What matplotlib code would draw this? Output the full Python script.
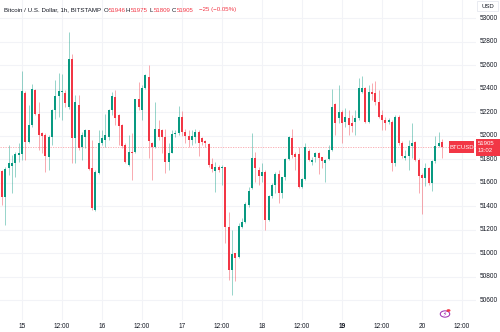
import pandas as pd
import matplotlib
matplotlib.use("Agg")
import matplotlib.pyplot as plt
from matplotlib.patches import Rectangle, Circle

plt.rcParams['font.family'] = ['Liberation Sans', 'DejaVu Sans']

# BTCUSD hourly candles, Bitstamp
opens = [51701, 51483, 51724, 51744, 51772, 51837, 51846, 52366, 51950, 52092,
         52394, 52191, 52021, 52007, 51823, 51993, 52219, 52341, 52372, 52369,
         52247, 52652, 51979, 52262, 51908, 51993, 52049, 51724, 51370, 51681,
         51936, 51964, 51987, 52219, 52332, 52177, 52092, 51922, 51752, 51865,
         51865, 52312, 52219, 52412, 52502, 51936, 51908, 52063, 52055, 51993,
         51780, 51857, 52013, 52027, 52163, 52035, 51998, 51964, 51993, 52035,
         51979, 51956, 51928, 51758, 51704, 51738, 51724, 51732, 51223, 50861,
         51002, 50968, 51229, 51271, 51413, 51554, 51809, 51710, 51662, 51696,
         51285, 51489, 51582, 51676, 51512, 51653, 51800, 51984, 51846, 51846,
         51568, 51630, 51874, 51780, 51823, 51851, 51817, 51766, 51803, 51882,
         52270, 52151, 52208, 52123, 52151, 52114, 52123, 52151, 52378, 52406,
         52123, 52372, 52369, 52293, 52180, 52137, 52123, 52123, 51769, 52165,
         51939, 51812, 51826, 51911, 51945, 51797, 51670, 51642, 51727, 51599,
         51783, 51911, 51946]
highs = [51710, 51738, 51922, 51837, 51865, 51936, 52550, 52380, 52262, 52446,
         52403, 52290, 52035, 52021, 52007, 52233, 52474, 52536, 52530, 52389,
         52884, 52700, 52346, 52346, 52035, 52063, 52055, 51964, 51710, 52049,
         52049, 52191, 52233, 52375, 52389, 52191, 52106, 51936, 52007, 52021,
         52318, 52460, 52431, 52530, 52601, 51950, 52290, 52134, 52063, 52063,
         51936, 52049, 52049, 52253, 52213, 52063, 52049, 52049, 52063, 52049,
         51993, 51964, 51936, 51809, 51780, 51752, 51752, 51738, 51356, 51200,
         51002, 51263, 51299, 51441, 51568, 52021, 51865, 51738, 51772, 51710,
         51497, 51597, 51696, 51710, 51653, 51809, 51998, 52063, 51865, 51908,
         51639, 51936, 51885, 51823, 51865, 51865, 51823, 51800, 51925, 52397,
         52279, 52434, 52222, 52236, 52222, 52180, 52222, 52491, 52511, 52420,
         52434, 52448, 52471, 52392, 52222, 52165, 52151, 52137, 52180, 52180,
         51953, 51882, 51967, 52109, 51953, 51812, 51684, 51769, 51735, 51797,
         51996, 52030, 51975]
lows = [51413, 51243, 51667, 51512, 51653, 51780, 51795, 51795, 51936, 52078,
        52177, 51880, 51851, 51696, 51710, 51922, 52148, 52162, 52134, 52247,
        52233, 51766, 51766, 51880, 51795, 51894, 51710, 51370, 51364, 51676,
        51922, 51908, 51964, 52177, 52092, 51922, 51894, 51766, 51744, 51625,
        51851, 52219, 52140, 52403, 51809, 51625, 51894, 51964, 51851, 51681,
        51710, 51851, 51993, 52007, 51998, 51936, 51908, 51922, 51936, 51829,
        51922, 51908, 51738, 51696, 51526, 51696, 51582, 51087, 50776, 50649,
        50762, 50960, 51215, 51257, 51399, 51546, 51611, 51582, 51611, 51200,
        51280, 51469, 51512, 51432, 51469, 51625, 51795, 51809, 51710, 51554,
        51560, 51625, 51786, 51752, 51780, 51676, 51724, 51611, 51797, 51868,
        52010, 52109, 51939, 52080, 52010, 52038, 52010, 52137, 52363, 52109,
        52109, 52307, 52264, 52151, 52052, 52052, 52100, 51698, 51747, 51925,
        51812, 51797, 51713, 51812, 51783, 51514, 51339, 51571, 51585, 51529,
        51769, 51905, 51809]
closes = [51483, 51715, 51766, 51772, 51846, 51851, 52380, 51950, 52092, 52397,
          52191, 52007, 51998, 51829, 51993, 52225, 52338, 52380, 52380, 52281,
          52658, 51979, 52290, 51894, 52007, 52049, 51715, 51384, 51696, 51942,
          51979, 52007, 52225, 52338, 52157, 52086, 51913, 51780, 51865, 51851,
          52312, 52247, 52412, 52516, 51956, 51908, 52063, 51993, 51993, 51775,
          51857, 52013, 52027, 52163, 52035, 51998, 51964, 51998, 52035, 51942,
          51950, 51936, 51752, 51715, 51738, 51710, 51738, 51223, 50861, 50994,
          50965, 51234, 51271, 51421, 51531, 51809, 51724, 51662, 51696, 51285,
          51489, 51582, 51676, 51512, 51647, 51800, 51993, 51837, 51823, 51568,
          51630, 51902, 51795, 51795, 51857, 51809, 51789, 51795, 51882, 52250,
          52109, 52202, 52114, 52160, 52095, 52086, 52151, 52406, 52406, 52123,
          52378, 52355, 52293, 52165, 52137, 52109, 52137, 51769, 52165, 51939,
          51831, 51831, 51916, 51939, 51797, 51656, 51642, 51727, 51599, 51783,
          51911, 51939, 51905]

start = "2024-02-14 18:00"
times = pd.date_range(start, periods=len(opens), freq="h")
price_levels = list(range(50600, 53001, 200))
last_price = closes[-1]

UP = "#089981"
DOWN = "#f23645"
GRID = "#f2f3f7"
TEXT = "#131722"

fig = plt.figure(figsize=(5, 3.32), dpi=100)
ax = fig.add_axes([0, 12 / 332, 476 / 500, 320 / 332])
ax.set_xlim(-0.6, 142.2)
ax.set_ylim(50434, 53157)

for i, (o, h, l, c) in enumerate(zip(opens, highs, lows, closes)):
    col = UP if c >= o else DOWN
    ax.plot([i, i], [l, h], color=col, lw=0.65, alpha=0.45, solid_capstyle="butt", zorder=2)
    bottom = min(o, c)
    height = max(abs(c - o), 8)
    ax.add_patch(Rectangle((i - 0.3, bottom), 0.6, height, facecolor=col,
                           edgecolor="none", zorder=3))

# last price line
ax.axhline(last_price, color=DOWN, lw=0.6, ls=(0, (1.5, 1.5)), alpha=0.45, zorder=1)

# time grid runs on past the last candle
x0, x1 = ax.get_xlim()
axis_times = pd.date_range(start, periods=int(x1) + 1, freq="h")
tick_pos = [i for i, t in enumerate(axis_times) if t.hour in (0, 12)]
for i in tick_pos:
    ax.axvline(i, color=GRID, lw=0.8, zorder=0)
for p in price_levels:
    ax.axhline(p, color=GRID, lw=0.8, zorder=0)

ax.set_xticks([])
ax.set_yticks([])
for s in ax.spines.values():
    s.set_visible(False)


def px(x, y):
    return x / 500, 1 - y / 332


# time axis labels
for i in tick_pos:
    t = axis_times[i]
    xp = (i - x0) / (x1 - x0) * 476
    if t.hour == 0:
        label = str(t.day)
        weight = "bold" if t.dayofweek == 0 else "normal"
    else:
        label = "12:00"
        weight = "normal"
    fig.text(*px(xp, 326), label, fontsize=4.7, color=TEXT, ha="center",
             va="center", fontweight=weight)

# price axis labels
y0, y1 = ax.get_ylim()
for p in price_levels:
    yp = (y1 - p) / (y1 - y0) * 320
    fig.text(*px(480, yp), str(p), fontsize=4.7, color=TEXT, ha="left", va="center")

# header
hy = 10
fig.text(*px(4, hy), "Bitcoin / U.S. Dollar, 1h, BITSTAMP", fontsize=4.4, color=TEXT,
         ha="left", va="center")
ohlc = [("O", 104, opens[-1]), ("H", 126, highs[-1]), ("L", 149, lows[-1]),
        ("C", 172, closes[-1])]
for letter, xx, val in ohlc:
    fig.text(*px(xx, hy), letter, fontsize=4.4, color=TEXT, ha="left", va="center")
    fig.text(*px(xx + 4.6, hy), str(val), fontsize=4.4, color=DOWN, ha="left", va="center")
fig.text(*px(199, hy), "\u221225 (\u22120.05%)", fontsize=4.4, color=DOWN,
         ha="left", va="center")

# last price tags
yl = (y1 - last_price) / (y1 - y0) * 320
fig.patches.append(Rectangle(px(476, yl + 8.5), 24 / 500, 17 / 332,
                             transform=fig.transFigure, facecolor=DOWN,
                             edgecolor="none", figure=fig, zorder=5))
fig.text(*px(478, yl - 3.5), str(last_price), fontsize=4.3, color="white",
         ha="left", va="center", zorder=6)
fig.text(*px(478, yl + 3.5), "13:02", fontsize=4.3, color="white", ha="left",
         va="center", zorder=6)
fig.patches.append(Rectangle(px(449, yl + 6), 25 / 500, 12 / 332,
                             transform=fig.transFigure, facecolor=DOWN,
                             edgecolor="none", figure=fig, zorder=5))
fig.text(*px(461.5, yl), "BTCUSD", fontsize=4.3, color="white", ha="center",
         va="center", zorder=6)

# currency button
fig.patches.append(Rectangle(px(477, 11), 21 / 500, 10 / 332,
                             transform=fig.transFigure, facecolor="white",
                             edgecolor="#e0e3eb", lw=0.5, figure=fig, zorder=5))
fig.text(*px(487.5, 6), "USD", fontsize=4.3, color=TEXT, ha="center", va="center",
         zorder=6)

# lightning badge
cx, cy = px(445, 314)
fig.patches.append(Circle((cx, cy), 0.0095, transform=fig.transFigure,
                          facecolor="white", edgecolor="#9c27b0", lw=0.7, figure=fig))
fig.text(cx, cy, "\u26a1", fontsize=4.2, color="#9c27b0", ha="center", va="center",
         family=["DejaVu Sans"])
fig.patches.append(Circle(px(448.5, 310.5), 0.004, transform=fig.transFigure,
                          facecolor=DOWN, edgecolor="none", figure=fig))

fig.savefig("out.png", dpi=100)
